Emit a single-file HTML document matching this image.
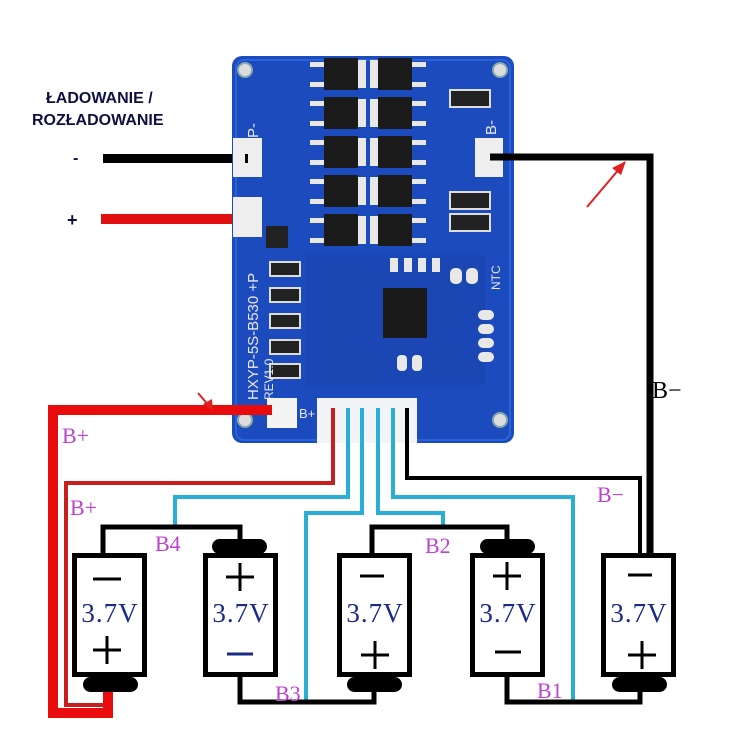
<!DOCTYPE html>
<html><head><meta charset="utf-8"><style>
html,body{margin:0;padding:0;background:#fff;}
svg{display:block}
</style></head><body>
<svg width="750" height="750" viewBox="0 0 750 750" xmlns="http://www.w3.org/2000/svg">
<rect width="750" height="750" fill="#fff"/>
<!-- title -->
<text x="46" y="103" font-family="Liberation Sans, sans-serif" font-weight="bold" font-size="16" fill="#0e1040">ŁADOWANIE /</text>
<text x="32" y="125" font-family="Liberation Sans, sans-serif" font-weight="bold" font-size="16" fill="#0e1040">ROZŁADOWANIE</text>
<text x="73" y="163" font-family="Liberation Sans, sans-serif" font-weight="bold" font-size="16" fill="#0e1040">-</text>
<text x="67" y="226" font-family="Liberation Sans, sans-serif" font-weight="bold" font-size="18" fill="#0e1040">+</text>
<rect x="103" y="154" width="145" height="9" fill="#000"/>
<rect x="101" y="214" width="147" height="10" fill="#e01010"/>

<!-- board -->
<rect x="232" y="56" width="282" height="387" rx="10" fill="#1b4bbd"/>
<rect x="236" y="60" width="274" height="380" rx="8" fill="none" stroke="#2a63d8" stroke-width="2"/>
<circle cx="245" cy="70" r="7" fill="#ddd" stroke="#8aa" stroke-width="2"/>
<circle cx="500" cy="70" r="7" fill="#ddd" stroke="#8aa" stroke-width="2"/>
<circle cx="500" cy="420" r="7" fill="#ddd" stroke="#8aa" stroke-width="2"/>
<circle cx="245" cy="420" r="7" fill="#ddd" stroke="#8aa" stroke-width="2"/>
<!-- mosfets -->
<g fill="#1b1b1b">
<rect x="324" y="58" width="34" height="32"/><rect x="378" y="58" width="34" height="32"/>
<rect x="324" y="97" width="34" height="32"/><rect x="378" y="97" width="34" height="32"/>
<rect x="324" y="136" width="34" height="32"/><rect x="378" y="136" width="34" height="32"/>
<rect x="324" y="175" width="34" height="32"/><rect x="378" y="175" width="34" height="32"/>
<rect x="324" y="214" width="34" height="32"/><rect x="378" y="214" width="34" height="32"/>
</g>
<g fill="#e8e8e8">
<rect x="358" y="60" width="8" height="28"/><rect x="370" y="60" width="8" height="28"/>
<rect x="358" y="99" width="8" height="28"/><rect x="370" y="99" width="8" height="28"/>
<rect x="358" y="138" width="8" height="28"/><rect x="370" y="138" width="8" height="28"/>
<rect x="358" y="177" width="8" height="28"/><rect x="370" y="177" width="8" height="28"/>
<rect x="358" y="216" width="8" height="28"/><rect x="370" y="216" width="8" height="28"/>
<rect x="310" y="62" width="14" height="5"/><rect x="310" y="82" width="14" height="5"/><rect x="412" y="62" width="14" height="5"/><rect x="412" y="82" width="14" height="5"/>
<rect x="310" y="101" width="14" height="5"/><rect x="310" y="121" width="14" height="5"/><rect x="412" y="101" width="14" height="5"/><rect x="412" y="121" width="14" height="5"/>
<rect x="310" y="140" width="14" height="5"/><rect x="310" y="160" width="14" height="5"/><rect x="412" y="140" width="14" height="5"/><rect x="412" y="160" width="14" height="5"/>
<rect x="310" y="179" width="14" height="5"/><rect x="310" y="199" width="14" height="5"/><rect x="412" y="179" width="14" height="5"/><rect x="412" y="199" width="14" height="5"/>
<rect x="310" y="218" width="14" height="5"/><rect x="310" y="238" width="14" height="5"/><rect x="412" y="218" width="14" height="5"/><rect x="412" y="238" width="14" height="5"/>
</g>
<rect x="450" y="90" width="40" height="17" fill="#222" stroke="#ddd" stroke-width="2"/>
<rect x="450" y="192" width="40" height="17" fill="#222" stroke="#ddd" stroke-width="2"/>
<rect x="450" y="214" width="40" height="17" fill="#222" stroke="#ddd" stroke-width="2"/>
<rect x="266" y="226" width="22" height="22" fill="#222"/>
<rect x="305" y="255" width="180" height="130" fill="#1a45ab" opacity="0.6"/>
<g fill="#222" stroke="#ddd" stroke-width="2">
<rect x="270" y="262" width="30" height="14"/><rect x="270" y="288" width="30" height="14"/>
<rect x="270" y="314" width="30" height="14"/><rect x="270" y="340" width="30" height="14"/>
<rect x="270" y="364" width="30" height="14"/>
</g>
<g fill="#e8e8e8">
<rect x="450" y="268" width="12" height="16" rx="5"/><rect x="466" y="268" width="12" height="16" rx="5"/>
<rect x="432" y="258" width="8" height="14"/><rect x="418" y="258" width="8" height="14"/><rect x="404" y="258" width="8" height="14"/><rect x="390" y="258" width="8" height="14"/>
<rect x="478" y="310" width="16" height="10" rx="5"/><rect x="478" y="324" width="16" height="10" rx="5"/><rect x="478" y="338" width="16" height="10" rx="5"/><rect x="478" y="352" width="16" height="10" rx="5"/>
<rect x="412" y="355" width="10" height="16" rx="4"/><rect x="397" y="355" width="10" height="16" rx="4"/>
</g>
<rect x="383" y="288" width="44" height="50" fill="#1a1a1a"/>
<text x="0" y="0" transform="translate(258,400) rotate(-90)" font-family="Liberation Sans, sans-serif" font-size="15" fill="#e8e8f0">HXYP-5S-B530  +P</text>
<text x="0" y="0" transform="translate(273,400) rotate(-90)" font-family="Liberation Sans, sans-serif" font-size="12" fill="#e8e8f0">REV1.0</text>
<text x="0" y="0" transform="translate(258,138) rotate(-90)" font-family="Liberation Sans, sans-serif" font-size="15" fill="#e8e8f0">P-</text>
<text x="0" y="0" transform="translate(496,135) rotate(-90)" font-family="Liberation Sans, sans-serif" font-size="15" fill="#e8e8f0">B-</text>
<text x="0" y="0" transform="translate(500,290) rotate(-90)" font-family="Liberation Sans, sans-serif" font-size="12" fill="#e8e8f0">NTC</text>
<text x="299" y="418" font-family="Liberation Sans, sans-serif" font-size="13" fill="#e8e8f0">B+</text>
<rect x="233" y="138" width="29" height="39" fill="#eee"/>
<rect x="233" y="197" width="29" height="40" fill="#eee"/>
<rect x="475" y="138" width="28" height="39" fill="#eee"/>
<rect x="267" y="398" width="30" height="30" fill="#f4f4f4"/>
<rect x="317" y="398" width="100" height="45" fill="#f2f4f8"/>

<!-- wires -->
<rect x="245" y="154" width="3" height="9" fill="#000"/>
<polyline points="490,157 650,157 650,553" fill="none" stroke="#000" stroke-width="7"/>
<polyline points="407,408 407,478 640,478 640,553" fill="none" stroke="#000" stroke-width="4"/>
<polyline points="272,410 53,410 53,713 108,713 108,690" fill="none" stroke="#e80c0c" stroke-width="10"/>
<polyline points="333,408 333,483 66,483 66,705 103,705" fill="none" stroke="#c81e1e" stroke-width="4"/>
<g fill="none" stroke="#2aaed6" stroke-width="4">
<polyline points="348,408 348,497 175,497 175,527"/>
<polyline points="362,408 362,513 306,513 306,702"/>
<polyline points="378,408 378,513 443,513 443,527"/>
<polyline points="393,408 393,497 573,497 573,702"/>
</g>
<g fill="none" stroke="#000" stroke-width="5">
<polyline points="103,553 103,527 240,527 240,540"/>
<polyline points="240,677 240,702 374,702 374,690"/>
<polyline points="372,553 372,527 507,527 507,540"/>
<polyline points="507,677 507,702 640,702 640,690"/>
</g>
<!-- cells -->
<g fill="#fff" stroke="#000" stroke-width="5">
<rect x="74.5" y="555.5" width="70" height="119"/>
<rect x="205.5" y="555.5" width="70" height="119"/>
<rect x="339.5" y="555.5" width="70" height="119"/>
<rect x="472.5" y="555.5" width="70" height="119"/>
<rect x="603.5" y="555.5" width="70" height="119"/>
</g>
<g fill="#000">
<rect x="83" y="677" width="55" height="15" rx="7.5"/>
<rect x="212" y="539" width="55" height="15" rx="7.5"/>
<rect x="347" y="677" width="55" height="15" rx="7.5"/>
<rect x="480" y="539" width="55" height="15" rx="7.5"/>
<rect x="612" y="677" width="55" height="15" rx="7.5"/>
</g>
<g font-family="Liberation Serif, serif" font-size="27" fill="#1a2a8a" text-anchor="middle" letter-spacing="1">
<text x="110" y="622">3.7V</text><text x="241" y="622">3.7V</text>
<text x="375" y="622">3.7V</text><text x="508" y="622">3.7V</text>
<text x="639" y="622">3.7V</text>
</g>
<g stroke="#000" stroke-width="3">
<line x1="93" y1="579" x2="121" y2="579"/>
<line x1="93" y1="650" x2="121" y2="650"/><line x1="107" y1="636" x2="107" y2="664"/>
<line x1="226" y1="577" x2="254" y2="577"/><line x1="240" y1="563" x2="240" y2="591"/>
<line x1="360" y1="576" x2="384" y2="576"/>
<line x1="361" y1="655" x2="389" y2="655"/><line x1="375" y1="641" x2="375" y2="669"/>
<line x1="493" y1="576" x2="521" y2="576"/><line x1="507" y1="562" x2="507" y2="590"/>
<line x1="495" y1="652" x2="521" y2="652"/>
<line x1="628" y1="575" x2="652" y2="575"/>
<line x1="628" y1="655" x2="656" y2="655"/><line x1="642" y1="641" x2="642" y2="669"/>
</g>
<line x1="227" y1="654" x2="253" y2="654" stroke="#1a2a8a" stroke-width="3"/>
<g font-family="Liberation Serif, serif" font-size="22" fill="#c040d0">
<text x="62" y="443">B+</text>
<text x="70" y="515">B+</text>
<text x="155" y="551">B4</text>
<text x="275" y="701">B3</text>
<text x="425" y="553">B2</text>
<text x="537" y="698">B1</text>
<text x="597" y="502">B−</text>
</g>
<text x="652" y="398" font-family="Liberation Serif, serif" font-size="24" fill="#000">B−</text>
<line x1="587" y1="207" x2="620" y2="168" stroke="#e02020" stroke-width="2"/>
<polygon points="626,161 612,168 621,175" fill="#e02020"/>
<line x1="198" y1="393" x2="210" y2="407" stroke="#e02020" stroke-width="2"/>
<polygon points="213,411 203,404 212,399" fill="#e02020"/>
</svg>
</body></html>
